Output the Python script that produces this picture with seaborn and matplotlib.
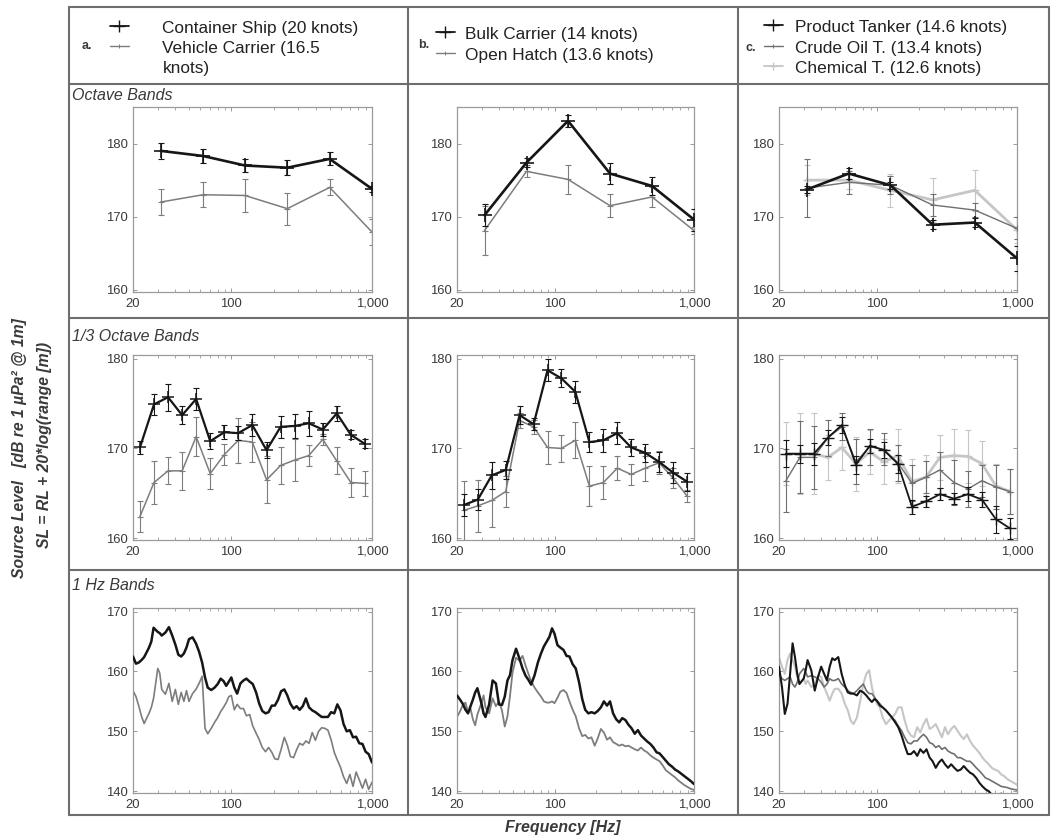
import matplotlib
matplotlib.use("Agg")
import matplotlib.pyplot as plt
from matplotlib.lines import Line2D
from matplotlib.ticker import NullLocator, LogLocator, NullFormatter
import seaborn as sns

# ---------------------------------------------------------------- frequencies
octave_freqs = [31.5, 63, 125, 250, 500, 1000]
third_freqs = [22.4, 28.2, 35.5, 44.7, 56.2, 70.8, 89.1, 112, 141, 178,
               224, 282, 355, 447, 562, 708, 891]
hz_freqs = [20, 21, 22, 23, 24, 25, 26, 27, 28, 30, 31, 32, 34, 36, 38,
            40, 42, 44, 46, 48, 50, 53, 56, 59, 62, 65, 68, 72, 76, 80,
            84, 88, 92, 96, 100, 105, 110, 116, 122, 128, 135, 142, 150,
            158, 166, 175, 184, 194, 204, 215, 226, 238, 250, 263, 277,
            291, 306, 322, 339, 357, 376, 396, 417, 439, 462, 486, 512,
            539, 567, 597, 628, 661, 696, 733, 771, 812, 855, 900, 947, 1000]

# ------------------------------------- a. container ship / vehicle carrier
a_oct_container = [179.0, 178.3, 177.0, 176.7, 177.9, 173.8]
a_oct_container_sd = [1.1, 1.0, 0.9, 1.0, 0.9, 0.4]
a_oct_vehicle = [172.0, 173.0, 172.9, 171.1, 174.0, 167.9]
a_oct_vehicle_sd = [1.8, 1.7, 2.3, 2.2, 1.1, 1.8]

a_3rd_container = [170.1, 174.9, 175.7, 173.7, 175.5, 170.8, 171.8, 171.7,
                   172.6, 169.8, 172.4, 172.5, 172.8, 172.1, 173.9, 171.5, 170.5]
a_3rd_container_sd = [0.7, 1.2, 1.5, 1.0, 1.2, 0.9, 0.8, 0.8, 1.2, 0.9,
                      1.2, 1.3, 1.4, 0.7, 0.8, 0.5, 0.5]
a_3rd_vehicle = [162.4, 166.2, 167.5, 167.5, 171.3, 167.2, 169.3, 170.9,
                 170.7, 166.5, 168.1, 168.7, 169.2, 171.0, 168.6, 166.2, 166.1]
a_3rd_vehicle_sd = [1.7, 2.4, 1.5, 2.1, 2.2, 1.7, 1.2, 2.5, 2.2, 2.6,
                    2.1, 2.3, 1.2, 0.6, 1.5, 1.6, 1.4]

a_hz_container = [162.5, 161.3, 161.5, 161.9, 162.4, 163.2, 164.0, 165.0, 167.3, 166.6,
                  166.4, 166.0, 166.5, 167.4, 166.0, 164.5, 162.8, 162.5, 163.0, 164.0,
                  165.4, 165.7, 164.7, 163.3, 161.5, 159.0, 157.3, 156.9, 157.3, 157.9,
                  158.8, 158.4, 157.6, 158.3, 159.0, 157.3, 156.3, 158.0, 158.5, 158.8,
                  158.3, 157.9, 156.5, 154.6, 153.4, 153.0, 153.2, 154.3, 154.3, 155.3,
                  156.7, 157.0, 156.0, 154.6, 153.8, 154.2, 153.6, 154.2, 155.5, 154.0,
                  153.5, 153.2, 152.8, 152.4, 152.4, 152.4, 153.2, 153.0, 154.5, 153.5,
                  151.2, 150.0, 150.2, 149.0, 149.1, 148.0, 147.9, 146.6, 146.2, 144.8]
a_hz_vehicle = [156.8, 155.8, 154.2, 152.5, 151.3, 152.2, 153.0, 154.0, 155.5, 160.5,
                159.7, 157.0, 156.2, 158.0, 155.0, 157.0, 154.5, 156.5, 155.0, 156.8,
                155.0, 156.3, 157.0, 158.0, 159.2, 150.5, 149.6, 150.5, 151.5, 152.3,
                153.3, 154.0, 154.8, 155.8, 156.0, 153.6, 154.5, 153.8, 153.8, 152.6,
                152.8, 150.9, 149.7, 148.6, 147.3, 146.6, 147.3, 146.5, 145.4, 145.3,
                147.0, 149.0, 147.7, 145.8, 145.6, 146.9, 148.0, 147.7, 148.4, 148.0,
                149.8, 148.5, 150.0, 150.6, 150.5, 150.2, 148.6, 146.5, 145.2, 144.0,
                142.4, 141.3, 142.8, 140.8, 143.2, 141.9, 140.5, 142.0, 140.3, 141.5]

# ------------------------------------------ b. bulk carrier / open hatch
b_oct_bulk = [170.2, 177.4, 183.1, 175.9, 174.2, 169.6]
b_oct_bulk_sd = [1.5, 0.6, 0.8, 1.4, 1.2, 1.5]
b_oct_hatch = [168.1, 176.2, 175.1, 171.5, 172.7, 168.1]
b_oct_hatch_sd = [3.4, 0.8, 2.0, 1.6, 1.4, 0.5]

b_3rd_bulk = [163.7, 164.3, 167.0, 167.6, 173.7, 172.7, 178.7, 177.8, 176.3,
              170.7, 170.9, 171.7, 170.1, 169.5, 168.5, 167.3, 166.3]
b_3rd_bulk_sd = [1.2, 1.2, 1.5, 1.0, 1.0, 0.7, 1.2, 1.0, 1.2, 1.1, 1.3,
                 1.2, 0.9, 1.0, 1.1, 1.2, 1.0]
b_3rd_hatch = [163.1, 163.6, 164.2, 165.2, 173.1, 172.4, 170.1, 170.0, 170.9,
               165.8, 166.2, 167.8, 167.1, 167.8, 168.4, 166.7, 164.7]
b_3rd_hatch_sd = [3.3, 2.9, 2.9, 1.7, 0.8, 0.8, 1.8, 1.5, 2.0, 2.2, 1.8,
                  1.3, 1.2, 1.4, 1.3, 1.1, 0.7]

b_hz_bulk = [156.0, 155.3, 154.6, 153.6, 153.0, 154.2, 155.3, 156.5, 157.2, 154.6,
             153.0, 152.4, 154.5, 158.5, 158.0, 154.5, 154.4, 155.8, 158.5, 159.4,
             161.9, 163.8, 162.2, 160.5, 159.3, 158.6, 157.8, 159.4, 161.5, 163.0,
             164.2, 165.0, 165.8, 167.2, 166.3, 164.4, 164.0, 163.6, 162.6, 162.5,
             161.2, 160.5, 158.2, 155.4, 153.6, 153.0, 153.2, 153.0, 153.4, 154.0,
             155.0, 154.3, 155.0, 153.0, 152.0, 151.5, 152.2, 151.9, 151.1, 150.5,
             149.6, 150.2, 149.3, 148.8, 148.3, 147.9, 147.3, 146.5, 146.3, 145.7,
             145.1, 144.5, 144.1, 143.6, 143.3, 142.9, 142.5, 142.1, 141.7, 141.2]
b_hz_hatch = [152.4, 153.3, 154.4, 154.8, 153.2, 153.8, 152.0, 151.0, 152.8, 154.8,
              156.0, 154.0, 153.0, 155.5, 154.2, 155.0, 153.5, 150.8, 152.5, 156.0,
              159.8, 162.3, 161.8, 162.6, 161.0, 159.6, 158.4, 157.3, 156.5, 155.8,
              155.0, 154.8, 154.8, 155.0, 154.7, 155.6, 156.6, 156.9, 156.4, 155.0,
              153.6, 152.5, 150.5, 149.2, 149.4, 148.8, 149.0, 147.6, 148.8, 150.4,
              149.8, 148.6, 149.0, 148.2, 147.9, 147.6, 147.8, 147.5, 147.6, 147.3,
              147.0, 146.8, 147.3, 146.8, 146.5, 146.0, 145.6, 145.3, 145.0, 144.3,
              143.5, 143.1, 142.7, 142.3, 141.8, 141.4, 141.0, 140.7, 140.4, 140.2]

# ------------------------------ c. product / crude oil / chemical tankers
c_oct_product = [173.7, 175.9, 174.3, 168.9, 169.2, 164.3]
c_oct_product_sd = [0.5, 0.7, 0.5, 0.6, 0.6, 1.7]
c_oct_crude = [173.9, 174.7, 174.3, 171.6, 170.9, 168.4]
c_oct_crude_sd = [4.0, 1.6, 1.2, 1.5, 1.0, 1.5]
c_oct_chemical = [175.0, 175.0, 173.6, 172.3, 173.6, 168.2]
c_oct_chemical_sd = [2.0, 1.2, 2.3, 3.0, 2.8, 1.8]

c_3rd_product = [169.4, 169.4, 169.4, 171.2, 172.6, 168.2, 170.3, 169.8, 168.3,
                 163.5, 164.1, 164.9, 164.4, 164.9, 164.3, 162.1, 161.1]
c_3rd_product_sd = [1.5, 1.0, 1.2, 0.8, 0.9, 1.0, 0.8, 0.9, 1.0, 0.8, 0.6,
                    0.7, 0.6, 0.8, 0.8, 1.5, 1.2]
c_3rd_crude = [166.4, 169.0, 169.0, 171.2, 172.4, 168.5, 170.2, 169.9, 168.4,
               166.1, 166.8, 167.6, 166.2, 165.5, 166.4, 165.7, 165.2]
c_3rd_crude_sd = [3.5, 4.0, 3.5, 2.0, 1.5, 2.5, 2.0, 1.8, 2.0, 2.0, 1.8,
                  2.0, 2.5, 2.0, 1.8, 2.5, 2.5]
c_3rd_chemical = [169.4, 169.4, 169.4, 169.0, 170.1, 168.3, 169.6, 168.5, 169.2,
                  166.3, 166.8, 169.0, 169.2, 169.1, 168.3, 165.8, 165.2]
c_3rd_chemical_sd = [3.5, 4.5, 4.5, 2.5, 2.5, 3.0, 2.5, 2.5, 3.0, 2.5, 2.5,
                     2.5, 3.0, 3.0, 2.5, 2.5, 2.5]

c_hz_product = [160.8, 157.4, 152.9, 154.6, 159.6, 164.7, 162.4, 159.6, 157.9, 158.8,
                160.2, 161.9, 160.2, 156.8, 159.1, 160.8, 159.6, 158.5, 160.8, 162.2,
                161.9, 162.4, 159.6, 157.7, 156.5, 156.3, 156.3, 156.0, 156.8, 156.5,
                156.0, 155.4, 154.9, 155.4, 155.1, 154.3, 154.0, 153.5, 152.9, 152.3,
                151.5, 150.7, 149.3, 147.6, 146.2, 146.2, 146.7, 145.9, 147.0, 146.4,
                147.0, 145.6, 145.0, 143.9, 144.8, 145.3, 144.5, 143.9, 144.5, 143.9,
                143.4, 143.6, 144.2, 143.6, 143.1, 142.8, 142.2, 141.4, 140.8, 140.3,
                140.0, 139.4, 139.4, 139.3, 139.6, 139.2, 138.8, 138.5, 138.2, 138.0]
c_hz_crude = [159.6, 158.8, 158.5, 158.8, 159.1, 157.9, 157.4, 158.2, 159.6, 160.5,
              159.9, 159.1, 159.3, 159.1, 158.8, 158.2, 157.4, 157.9, 158.8, 158.5,
              158.5, 158.8, 157.9, 157.4, 156.8, 156.5, 156.3, 156.8, 157.4, 157.9,
              156.8, 156.3, 156.3, 155.7, 155.1, 154.6, 154.0, 153.5, 152.9, 152.3,
              151.8, 150.9, 150.1, 149.0, 148.1, 147.9, 148.4, 148.4, 149.0, 149.5,
              149.0, 148.1, 147.9, 147.3, 147.6, 147.0, 147.3, 146.7, 146.4, 146.2,
              145.6, 145.6, 145.3, 145.0, 145.0, 144.5, 143.9, 143.4, 142.8, 142.2,
              142.0, 141.7, 141.4, 141.1, 140.8, 140.7, 140.6, 140.4, 140.3, 140.2]
c_hz_chemical = [162.4, 160.8, 159.6, 161.9, 163.0, 161.9, 160.8, 159.1, 157.9, 158.8,
                 157.9, 158.5, 157.4, 157.9, 159.3, 159.1, 157.4, 156.3, 155.1, 156.3,
                 157.1, 157.1, 156.3, 154.6, 153.5, 151.8, 151.2, 152.3, 155.1, 157.9,
                 159.6, 160.2, 157.4, 155.7, 154.6, 154.0, 152.3, 151.2, 151.8, 152.3,
                 152.9, 154.0, 154.0, 151.8, 150.1, 149.3, 149.0, 150.7, 149.8, 151.2,
                 152.1, 150.4, 150.7, 151.2, 150.1, 149.0, 150.7, 149.5, 150.4, 150.9,
                 150.1, 149.3, 148.7, 149.5, 148.4, 147.6, 147.0, 146.4, 145.6, 145.0,
                 144.5, 143.9, 143.6, 143.4, 142.8, 142.5, 142.0, 141.7, 141.4, 141.1]

# -------------------------------------------------------------- text
legend_a = ["Container Ship (20 knots)", "Vehicle Carrier (16.5"]
legend_b = ["Bulk Carrier (14 knots)", "Open Hatch (13.6 knots)"]
legend_c = ["Product Tanker (14.6 knots)", "Crude Oil T. (13.4 knots)",
            "Chemical T. (12.6 knots)"]
row_titles = ["Octave Bands", "1/3 Octave Bands", "1 Hz Bands"]
x_tick_values = [20, 100, 1000]
x_tick_labels = ["20", "100", "1,000"]

# -------------------------------------------------------------- style
sns.set_theme(style="ticks")
plt.rcParams["font.family"] = ["Liberation Sans", "DejaVu Sans"]

BLACK = "#161616"
GRAY = "#7d7d7d"
CRUDE = "#6f6f6f"
LIGHT = "#c6c6c6"
SPINE = "#9a9a9a"
FRAME = "#6e6e6e"
TXT = "#3a3a3a"

W, H = 1052, 838
fig = plt.figure(figsize=(W / 100, H / 100), dpi=100)
fig.patch.set_facecolor("white")


def px_rect(left, top, right, bottom):
    return [left / W, 1 - bottom / H, (right - left) / W, (bottom - top) / H]


col_px = [(133, 372), (457, 694), (779, 1017)]
row_px = [(107, 292), (355, 540), (608, 793)]
row_ylim = [(159.7, 185.0), (159.8, 180.4), (139.7, 170.6)]
row_yticks = [[160, 170, 180], [160, 170, 180], [140, 150, 160, 170]]

axes = [[fig.add_axes(px_rect(c[0], r[0], c[1], r[1])) for c in col_px]
        for r in row_px]


def style_axes(ax, ylim, yticks):
    ax.set_xscale("log")
    ax.set_xlim(20, 1000)
    ax.set_ylim(*ylim)
    ax.set_xticks(x_tick_values)
    ax.set_xticklabels(x_tick_labels)
    ax.xaxis.set_minor_locator(LogLocator(base=10, subs=range(2, 10)))
    ax.xaxis.set_minor_formatter(NullFormatter())
    ax.set_yticks(yticks)
    ax.yaxis.set_minor_locator(NullLocator())
    ax.tick_params(which="major", direction="in", length=3, width=0.7,
                   color=SPINE, labelsize=9.4, labelcolor=TXT, pad=4,
                   top=True, right=True)
    ax.tick_params(which="minor", direction="in", length=2, width=0.6,
                   color=SPINE, top=True)
    for s in ax.spines.values():
        s.set_color(SPINE)
        s.set_linewidth(0.9)
    ax.set_xlabel("")
    ax.set_ylabel("")
    ax.set_facecolor("white")


def series(ax, x, y, color, lw, marker=None, ms=0, mew=1.0, sd=None, z=2):
    if sd is not None:
        ax.errorbar(x, y, yerr=sd, fmt="none", ecolor=color, elinewidth=0.8,
                    capsize=2, capthick=0.8, zorder=z)
    kw = {}
    if marker:
        kw = dict(marker=marker, markersize=ms, markeredgewidth=mew,
                  markeredgecolor=color, markerfacecolor=color)
    sns.lineplot(x=x, y=y, ax=ax, color=color, linewidth=lw, estimator=None,
                 sort=False, legend=False, zorder=z + 0.5, **kw)


# ---- row 1: octave bands
ax = axes[0][0]
series(ax, octave_freqs, a_oct_vehicle, GRAY, 1.1, "+", 4, 0.8, a_oct_vehicle_sd)
series(ax, octave_freqs, a_oct_container, BLACK, 1.9, "+", 10, 1.2, a_oct_container_sd, z=3)
ax = axes[0][1]
series(ax, octave_freqs, b_oct_hatch, GRAY, 1.1, "+", 4, 0.8, b_oct_hatch_sd)
series(ax, octave_freqs, b_oct_bulk, BLACK, 1.9, "+", 10, 1.2, b_oct_bulk_sd, z=3)
ax = axes[0][2]
series(ax, octave_freqs, c_oct_chemical, LIGHT, 2.0, "+", 6, 1.0, c_oct_chemical_sd)
series(ax, octave_freqs, c_oct_crude, CRUDE, 1.0, "+", 4, 0.8, c_oct_crude_sd, z=3)
series(ax, octave_freqs, c_oct_product, BLACK, 1.9, "+", 10, 1.2, c_oct_product_sd, z=4)

# ---- row 2: 1/3 octave bands
ax = axes[1][0]
series(ax, third_freqs, a_3rd_vehicle, GRAY, 1.1, "+", 4, 0.8, a_3rd_vehicle_sd)
series(ax, third_freqs, a_3rd_container, BLACK, 1.6, "+", 9, 1.1, a_3rd_container_sd, z=3)
ax = axes[1][1]
series(ax, third_freqs, b_3rd_hatch, GRAY, 1.1, "+", 4, 0.8, b_3rd_hatch_sd)
series(ax, third_freqs, b_3rd_bulk, BLACK, 1.6, "+", 9, 1.1, b_3rd_bulk_sd, z=3)
ax = axes[1][2]
series(ax, third_freqs, c_3rd_chemical, LIGHT, 2.0, "+", 6, 1.0, c_3rd_chemical_sd)
series(ax, third_freqs, c_3rd_crude, CRUDE, 1.0, "+", 4, 0.8, c_3rd_crude_sd, z=3)
series(ax, third_freqs, c_3rd_product, BLACK, 1.3, "+", 9, 1.0, c_3rd_product_sd, z=4)

# ---- row 3: 1 Hz bands
ax = axes[2][0]
series(ax, hz_freqs, a_hz_vehicle, GRAY, 1.2)
series(ax, hz_freqs, a_hz_container, BLACK, 1.8, z=3)
ax = axes[2][1]
series(ax, hz_freqs, b_hz_hatch, GRAY, 1.3)
series(ax, hz_freqs, b_hz_bulk, BLACK, 1.8, z=3)
ax = axes[2][2]
series(ax, hz_freqs, c_hz_chemical, LIGHT, 1.5)
series(ax, hz_freqs, c_hz_crude, CRUDE, 1.2, z=3)
series(ax, hz_freqs, c_hz_product, BLACK, 1.5, z=4)

for r in range(3):
    for c in range(3):
        style_axes(axes[r][c], row_ylim[r], row_yticks[r])

# ---- table frame
frame_x = [69, 408, 738, 1049]
frame_y = [7, 84, 318, 570, 815]
for x in frame_x:
    fig.add_artist(Line2D([x / W, x / W], [1 - frame_y[0] / H, 1 - frame_y[-1] / H],
                          color=FRAME, lw=1.5))
for y in frame_y:
    fig.add_artist(Line2D([frame_x[0] / W, frame_x[-1] / W], [1 - y / H, 1 - y / H],
                          color=FRAME, lw=1.5))

# ---- row titles
for title, ty in zip(row_titles, [95, 336, 585]):
    fig.text(72 / W, 1 - ty / H, title, style="italic", fontsize=11.5,
             color=TXT, va="center", ha="left")

# ---- header legends
HDR = 12.4


def entry(x, y, handle, label, pad):
    fig.legend([handle], [label], loc="center left",
               bbox_to_anchor=(x / W, 1 - y / H), frameon=False,
               fontsize=HDR, handlelength=1.1, handletextpad=pad,
               borderpad=0, borderaxespad=0, labelcolor="#222222")


h_black = Line2D([], [], color=BLACK, lw=1.3, marker="+", ms=8, mew=1.0)
h_gray = Line2D([], [], color=GRAY, lw=1.0, marker="+", ms=3, mew=0.7)
h_crude = Line2D([], [], color=CRUDE, lw=1.0, marker="+", ms=3, mew=0.7)
h_light = Line2D([], [], color=LIGHT, lw=1.3, marker="+", ms=6, mew=0.9)

fig.text(82 / W, 1 - 46 / H, "a.", fontsize=9, fontweight="bold", color=TXT,
         va="center")
entry(110, 28, h_black, legend_a[0], 1.9)
entry(110, 48, h_gray, legend_a[1], 1.9)
fig.text(163 / W, 1 - 68 / H, "knots)", fontsize=HDR, color="#222222",
         va="center")

fig.text(418 / W, 1 - 45 / H, "b.", fontsize=9, fontweight="bold", color=TXT,
         va="center")
entry(436, 34, h_black, legend_b[0], 0.6)
entry(436, 55, h_gray, legend_b[1], 0.6)

fig.text(746 / W, 1 - 48 / H, "c.", fontsize=9, fontweight="bold", color=TXT,
         va="center")
entry(764, 27, h_black, legend_c[0], 0.7)
entry(764, 48, h_crude, legend_c[1], 0.7)
entry(764, 68, h_light, legend_c[2], 0.7)

# ---- shared axis titles
fig.text(20 / W, 1 - 448 / H, "Source Level   [dB re 1 \u00b5Pa\u00b2 @ 1m]",
         rotation=90, fontsize=11.3, fontweight="bold", style="italic",
         color=TXT, ha="center", va="center")
fig.text(45 / W, 1 - 445 / H, "SL = RL + 20*log(range [m])",
         rotation=90, fontsize=11.3, fontweight="bold", style="italic",
         color=TXT, ha="center", va="center")
fig.text(563 / W, 1 - 827 / H, "Frequency [Hz]", fontsize=11.5,
         fontweight="bold", style="italic", color=TXT, ha="center",
         va="center")

fig.savefig("out.png", dpi=100, facecolor="white")
